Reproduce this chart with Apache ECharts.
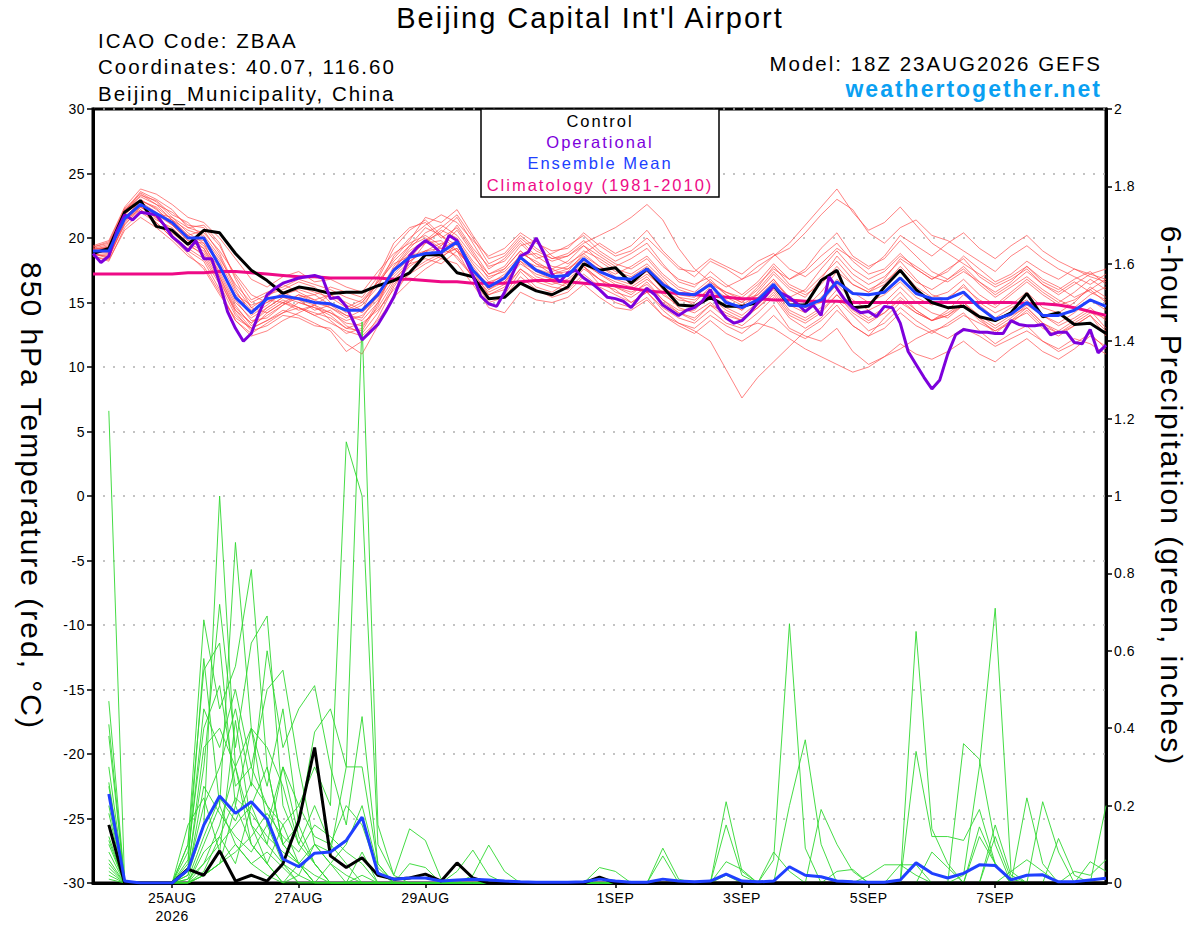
<!DOCTYPE html>
<html>
<head>
<meta charset="utf-8">
<script src="https://cdn.jsdelivr.net/npm/echarts@6.0.0/dist/echarts.min.js"></script>
<style>
html,body{margin:0;padding:0;background:#fff;}
#chart{width:1200px;height:927px;}
#chart svg text, #chart svg tspan{letter-spacing:2px;}
#chart svg [style*="14px"]{letter-spacing:0.5px;}
</style>
</head>
<body>
<div id="chart"></div>
<script>
// ---- x axis tick labels (hours after 18Z 23AUG2026) ----
const tickHours = [30, 78, 126, 198, 246, 294, 342];
const tickLabels = ['25AUG\n2026', '27AUG', '29AUG', '1SEP', '3SEP', '5SEP', '7SEP'];

// ---- 850 hPa temperature, 6-hourly from hour 0 ----
const controlTemp = [
 18.8,19.2,22.0,22.9,20.9,20.6,19.5,20.6,20.4,18.8,
 17.5,16.7,15.7,16.2,16.0,15.7,15.8,15.8,16.3,16.7,
 17.3,18.7,18.7,17.3,17.0,15.3,15.4,16.5,15.9,15.6,
 16.2,18.0,17.5,17.7,16.5,17.6,16.2,14.8,14.7,15.4,
 14.7,14.7,15.0,16.3,14.8,14.8,16.7,17.5,14.6,14.7,
 16.2,17.5,16.0,15.0,14.6,14.7,13.9,13.6,14.2,15.7,
 13.9,14.2,13.3,13.4,12.6];
const meanTemp = [
 19.0,19.0,21.5,22.6,21.9,21.2,20.0,20.0,17.8,15.4,
 14.2,15.3,15.5,15.3,15.0,14.9,14.4,14.4,15.6,17.5,
 18.5,18.8,18.9,19.7,17.5,16.2,16.9,18.5,17.5,17.0,
 17.1,18.4,17.4,16.9,16.8,17.6,16.4,15.7,15.6,16.4,
 15.0,14.6,15.2,16.4,14.8,14.7,15.2,16.6,15.7,15.6,
 15.8,16.9,15.7,15.3,15.3,15.8,14.6,13.7,14.1,15.0,
 14.0,14.0,14.4,15.2,14.7];
const climTemp = [
 17.2,17.2,17.2,17.2,17.2,17.2,17.3,17.3,17.4,17.4,
 17.3,17.2,17.1,17.0,17.0,16.9,16.9,16.9,16.9,16.8,
 16.8,16.7,16.6,16.6,16.5,16.5,16.5,16.6,16.7,16.7,
 16.6,16.5,16.4,16.3,16.1,15.9,15.8,15.7,15.6,15.5,
 15.4,15.3,15.3,15.2,15.2,15.1,15.1,15.1,15.0,15.0,
 15.0,15.0,15.0,15.0,15.0,15.0,15.0,15.0,15.0,14.9,
 14.9,14.8,14.6,14.3,14.0];
// operational run, 3-hourly from hour 0
const operTemp = [
 18.8,18.1,18.6,20.5,21.8,21.4,22.0,21.9,21.8,21.0,
 20.1,19.6,19.0,19.8,18.4,18.4,16.5,14.3,13.0,12.0,
 12.6,14.2,15.6,16.1,16.5,16.7,16.9,17.0,17.1,16.9,
 15.3,15.4,14.7,13.4,12.1,12.7,13.3,14.3,15.4,17.0,
 18.6,19.3,19.8,19.4,18.8,20.2,19.8,18.5,17.1,15.5,
 14.9,14.7,15.8,17.2,18.6,18.9,20.0,18.8,17.2,16.6,
 17.3,17.5,16.9,16.5,16.0,15.4,15.3,15.1,14.6,15.4,
 16.1,15.6,14.8,14.4,14.0,14.4,14.6,15.1,16.0,14.6,
 13.8,13.4,13.6,14.2,15.0,15.5,16.3,15.7,15.4,14.9,
 14.3,14.8,14.0,17.0,16.1,15.2,14.6,14.2,14.3,13.9,
 14.7,14.6,13.4,11.2,10.2,9.2,8.3,9.0,11.0,12.5,
 12.9,12.8,12.7,12.7,12.6,12.6,13.6,13.3,13.2,13.2,
 13.3,12.5,12.7,12.7,11.9,11.8,12.9,11.1,11.7];

// ensemble members, 6-hourly from hour 0
const ensTemp = [
 [19.2,19.5,22.0,23.5,22.8,21.6,20.4,19.6,17.2,14.8, 13.2,14.0,14.8,15.6,15.2,14.6,13.8,14.4,16.8,19.2, 20.6,21.4,20.2,19.0,17.6,16.0,16.8,18.8,18.2,17.4, 17.8,19.0,18.4,17.6,17.2,18.0,16.8,15.4,14.8,15.6, 15.2,14.4,15.8,17.2,16.0,15.4,16.8,18.6,17.2,16.4, 17.0,18.2,16.8,15.6,15.2,16.4,15.0,14.2,14.8,15.8, 14.6,14.2,15.0,16.2,15.4],
 [18.8,18.4,21.2,22.4,21.6,20.2,19.0,18.2,16.0,13.6, 12.4,12.8,13.6,14.2,14.8,13.6,12.6,13.0,15.0,17.6, 19.2,20.4,21.0,20.2,18.6,17.2,17.8,19.4,19.8,18.6, 18.0,18.8,19.6,18.8,19.4,20.6,19.0,17.8,17.0,18.2, 17.6,16.8,17.4,18.6,19.2,20.4,21.8,23.0,22.2,20.4, 19.6,20.8,21.4,20.2,19.8,19.0,18.2,17.4,18.6,19.4, 18.4,17.6,17.0,16.4,17.2],
 [19.0,18.9,21.8,22.9,22.4,21.4,20.2,20.6,18.8,16.2, 14.6,15.4,16.4,15.8,15.2,15.6,14.8,14.2,15.4,17.0, 18.2,19.0,18.4,19.6,17.2,15.8,16.4,18.2,17.0,16.6, 16.2,17.6,16.8,15.8,15.4,16.2,15.0,14.2,13.6,14.8, 13.8,13.2,14.2,15.4,13.8,13.0,13.8,15.2,14.0,12.8, 13.4,14.6,13.6,12.8,12.2,13.0,12.4,11.6,12.2,12.8, 12.0,11.4,12.2,11.8,11.0],
 [19.4,19.8,22.4,23.8,23.4,22.6,21.6,21.2,20.0,18.4, 16.8,16.2,17.0,17.4,16.6,16.8,16.2,15.8,17.4,18.8, 19.6,20.2,19.4,21.0,19.2,17.8,18.2,19.6,18.4,18.8, 19.4,20.2,19.0,18.2,18.8,19.6,18.0,16.6,16.2,17.4, 16.4,15.6,16.6,18.0,16.8,17.6,19.2,20.4,18.6,17.8, 18.4,19.8,18.6,17.4,16.8,17.8,16.6,15.8,16.6,17.8, 16.8,16.2,15.4,16.0,16.8],
 [18.6,18.2,20.8,22.0,21.2,20.0,18.8,17.6,15.6,13.8, 13.0,13.6,14.4,14.0,13.4,12.8,11.2,12.0,13.8,16.2, 18.0,19.6,19.8,18.4,17.0,15.2,15.6,17.4,16.2,15.8, 16.6,17.8,16.4,16.0,15.0,15.8,14.4,13.4,12.8,12.0, 9.8,7.6,9.2,10.4,11.6,12.8,13.6,14.8,13.2,12.4, 13.8,15.0,14.2,13.6,14.4,15.6,14.8,13.8,14.6,15.2, 14.0,13.2,13.8,14.6,13.6],
 [19.1,19.3,22.2,23.2,22.6,22.0,21.0,20.8,19.4,17.0, 15.2,15.8,16.2,16.8,16.4,16.0,15.4,15.0,16.6,18.4, 19.8,21.6,21.2,22.2,20.2,18.4,18.8,20.2,19.2,18.4, 18.6,19.4,18.6,17.8,18.4,19.2,17.8,16.8,16.4,17.0, 16.2,16.8,17.8,18.6,19.6,21.0,22.4,23.8,22.0,20.6, 21.2,22.4,21.0,19.6,18.8,18.0,17.2,16.4,17.0,17.8, 16.6,16.0,16.8,17.4,16.4],
 [19.0,19.1,21.6,22.6,21.8,21.0,19.8,19.2,17.4,15.0, 13.8,14.6,15.4,15.0,14.6,14.2,13.6,14.0,15.2,17.4, 18.8,19.6,20.6,20.0,18.2,17.0,17.4,18.6,18.8,18.2, 18.6,19.6,20.2,20.8,21.6,22.6,21.4,19.2,17.6,16.6, 15.8,15.2,15.6,16.8,15.4,14.6,15.0,16.4,15.2,14.4, 15.0,16.2,15.0,14.2,13.8,14.8,13.6,12.8,13.4,14.4, 13.2,12.6,13.4,14.2,13.8],
 [18.9,19.0,21.4,22.2,21.4,20.8,19.6,18.6,16.6,14.4, 13.4,14.4,15.2,14.6,14.0,14.4,13.2,12.6,14.2,16.4, 17.8,18.6,19.4,20.6,18.8,16.8,17.6,19.0,18.0,17.2, 17.4,18.8,17.8,17.0,16.6,17.4,16.0,15.2,15.0,16.2, 15.4,14.8,15.6,16.8,15.2,14.6,15.8,17.4,16.4,15.8, 16.4,17.8,16.6,16.0,16.8,17.6,16.4,15.4,16.2,17.0, 16.0,15.2,14.6,15.6,16.2],
 [19.3,19.6,22.2,23.0,22.2,21.2,20.0,19.8,18.2,15.8, 14.4,15.0,15.8,15.2,14.4,14.8,14.0,13.6,15.0,16.8, 18.0,18.4,18.0,19.0,16.8,15.0,15.4,17.0,16.0,15.4, 15.8,17.0,16.0,15.0,14.6,15.4,14.0,13.4,13.0,14.0, 13.2,12.6,13.6,14.8,13.0,12.4,12.0,13.0,11.2,10.2, 10.8,11.8,11.0,10.6,11.2,12.0,11.0,10.4,11.4,12.2, 11.2,10.6,11.4,12.4,11.6],
 [18.7,18.6,21.0,22.4,21.8,21.4,20.6,20.2,18.6,16.0, 14.0,14.8,15.8,16.2,15.8,15.4,14.6,15.2,16.6,18.0, 18.6,19.0,19.6,19.0,17.6,16.4,17.2,18.4,17.8,17.6, 17.0,18.0,17.2,16.4,16.0,16.8,15.8,14.6,14.2,15.0, 14.0,13.6,14.8,16.0,14.4,13.8,14.6,16.0,14.6,13.8, 14.6,15.8,14.4,13.6,14.0,15.0,13.8,12.6,13.6,14.6, 13.4,12.8,13.6,14.4,13.0],
 [19.1,19.4,21.9,23.3,22.9,21.8,21.2,20.0,18.4,16.4, 15.0,15.6,16.0,16.6,16.2,15.0,14.2,14.8,16.2,18.6, 20.0,21.0,21.8,21.2,19.8,18.6,19.2,20.4,19.6,19.0, 19.2,20.4,19.4,18.6,19.0,20.0,18.8,17.6,17.4,18.4, 17.8,17.2,18.2,18.8,17.6,17.0,18.0,19.2,18.4,17.6, 18.6,20.2,19.4,18.6,19.6,20.4,19.2,18.4,19.4,20.2, 19.0,18.2,17.6,17.0,16.6],
 [18.8,18.5,21.3,22.6,21.5,20.4,19.4,18.8,16.8,14.2, 12.8,13.2,14.0,13.8,13.2,13.0,11.8,11.0,13.2,15.6, 17.4,18.2,18.8,19.2,17.4,16.0,16.6,18.0,17.2,16.8, 16.4,17.8,16.8,16.2,15.6,16.6,15.2,14.4,14.4,15.6, 14.6,14.0,15.0,16.4,14.8,14.2,15.4,16.8,15.8,15.0, 15.6,16.6,15.4,14.8,15.4,16.2,15.2,14.6,15.6,16.6, 15.6,14.8,15.2,16.0,15.0],
 [19.2,19.2,21.6,22.8,22.0,21.0,20.2,19.4,17.6,15.6, 14.8,15.2,15.0,14.4,14.8,15.6,15.0,14.4,15.8,17.2, 18.4,19.8,20.4,21.6,19.6,17.6,18.4,19.8,18.6,17.8, 17.6,18.6,17.8,17.2,17.8,18.6,17.2,16.2,15.8,16.8, 15.6,15.0,16.0,17.4,16.2,15.6,16.4,17.8,16.4,15.8, 16.8,18.4,17.6,16.8,17.4,18.6,17.6,16.6,17.2,18.2, 17.4,16.8,17.6,17.2,16.8],
 [18.9,18.8,21.4,22.4,21.6,20.6,19.6,19.0,17.0,14.6, 13.4,14.6,15.4,15.2,14.8,14.2,13.4,13.2,14.6,16.6, 18.2,19.0,19.2,18.6,17.0,15.6,16.2,17.6,16.6,16.2, 16.0,17.2,16.2,15.6,15.0,15.8,14.6,13.8,13.4,14.4, 13.4,13.0,13.4,13.0,12.2,11.4,10.8,10.2,9.6,10.0, 10.8,11.4,12.2,12.8,13.2,14.0,13.4,12.8,13.6,14.2, 13.0,12.4,13.2,14.0,12.8],
 [19.0,19.3,22.1,23.6,23.0,22.2,20.8,20.4,19.0,17.2, 15.6,15.0,15.6,16.0,15.6,16.2,15.8,15.4,17.0,19.6, 20.8,21.2,20.0,20.8,19.0,17.2,17.6,19.0,18.0,17.6, 18.2,19.4,18.2,17.4,17.0,17.8,16.6,15.6,15.4,16.4, 15.8,15.4,16.4,17.6,16.8,17.4,18.6,19.6,18.2,17.2, 17.6,18.8,17.6,16.8,17.6,18.4,17.0,16.2,16.8,17.6, 16.4,15.6,16.4,17.2,17.6],
 [18.6,18.3,20.6,21.6,20.8,19.8,18.6,17.8,15.8,13.6, 12.6,13.4,14.2,14.6,14.0,13.4,12.8,12.4,13.6,15.4, 16.6,17.6,18.4,18.0,16.4,14.6,14.2,15.8,15.2,15.0, 15.4,16.4,15.4,14.6,14.4,15.2,14.0,13.2,12.6,13.6, 12.6,12.0,12.8,14.0,12.8,12.2,13.0,14.4,13.2,12.4, 13.0,14.2,13.2,12.6,13.4,14.2,12.8,11.8,12.6,13.2, 12.0,11.2,11.8,12.6,11.4],
 [19.1,18.9,21.7,22.5,21.9,21.6,20.8,21.0,19.6,16.8, 14.6,14.2,15.0,15.6,15.0,14.6,14.0,13.8,15.6,17.8, 19.4,20.0,19.2,19.8,18.0,16.6,17.0,18.6,17.6,17.2, 17.6,18.4,17.6,16.8,16.4,17.2,16.2,15.4,15.2,16.0, 15.0,14.4,15.4,16.6,15.4,16.0,17.6,19.0,17.6,16.8, 17.4,18.6,17.8,17.0,16.6,17.4,16.6,15.6,16.4,17.4, 16.4,15.8,16.6,15.8,15.2],
 [18.8,19.0,21.5,22.9,22.3,21.0,19.8,19.6,18.0,15.2, 13.6,13.8,14.8,15.4,15.6,14.8,14.4,15.0,16.4,18.2, 19.4,20.8,20.2,19.4,17.8,16.2,16.6,18.2,17.4,16.8, 17.2,18.2,17.2,16.6,16.2,17.0,15.6,14.8,14.6,15.4, 14.4,13.8,14.6,15.8,14.2,13.6,14.4,15.6,14.4,13.6, 14.2,15.2,14.2,13.6,14.0,14.8,13.8,13.0,13.8,14.8, 14.0,13.4,14.2,15.2,14.4],
 [19.3,19.7,22.3,23.4,22.6,21.4,20.2,19.2,17.0,14.4, 13.0,13.6,14.2,15.0,14.6,14.0,13.0,12.8,14.8,17.6, 19.0,19.8,20.8,21.8,20.0,18.0,18.6,20.0,19.0,18.4, 18.8,19.8,18.8,18.0,17.6,18.4,17.0,16.0,15.6,16.6, 15.6,15.0,16.2,17.8,16.4,15.8,17.0,18.2,16.8,16.0, 16.6,17.6,16.2,15.4,15.8,16.8,15.6,14.8,15.8,16.8, 15.8,15.0,15.8,16.8,16.0],
 [18.7,18.7,21.1,22.2,21.2,20.0,19.2,18.4,16.4,14.0, 13.0,14.2,15.0,14.6,14.2,13.8,13.0,13.4,14.4,16.0, 17.2,18.0,18.6,19.2,17.4,15.6,16.0,17.6,16.8,16.4, 16.8,17.8,16.8,16.2,15.8,16.4,15.2,14.2,13.8,14.8, 14.2,13.6,14.6,15.6,14.0,13.4,14.2,15.6,14.2,13.4, 14.2,15.4,14.4,13.6,14.2,15.0,14.0,13.2,14.0,14.6, 13.4,12.6,13.2,14.0,12.4]
];

// ---- 6-hour precipitation (inches), 6-hourly from hour 6 ----
const controlPrecip = [
 0.15,0,0,0,0,0.036,0.02,0.083,0.005,0.02,
 0.005,0.05,0.16,0.35,0.07,0.04,0.065,0.02,0.01,0.013,
 0.023,0.005,0.052,0.013,0,0,0,0,0,0,
 0,0.015,0,0,0,0,0,0,0,0,
 0,0,0,0,0,0,0,0,0,0,
 0,0,0,0,0,0,0,0,0,0,
 0,0,0,0];
const meanPrecip = [
 0.23,0.005,0,0,0,0.034,0.15,0.225,0.18,0.21,
 0.165,0.062,0.042,0.077,0.08,0.11,0.17,0.025,0.01,0.013,
 0.013,0.005,0.008,0.01,0.008,0.005,0.003,0.002,0.002,0.002,
 0.003,0.01,0.005,0.002,0.002,0.01,0.005,0.003,0.005,0.023,
 0.005,0.003,0.005,0.042,0.02,0.016,0.005,0.003,0.002,0.002,
 0.008,0.052,0.025,0.013,0.025,0.047,0.045,0.008,0.02,0.021,
 0.003,0.003,0.008,0.012];
const ensPrecip = [
 [1.22,0,0,0,0,0.02,0.15,1.0,0.3,0.1, 0.05,0,0.02,0.1,0.05,0.02,0,0,0,0, 0,0,0,0,0,0,0,0,0,0, 0,0,0,0,0,0,0,0,0,0, 0,0,0,0,0,0,0,0,0,0, 0,0,0,0,0,0,0,0,0,0, 0,0,0,0],
 [0.47,0,0,0,0,0.05,0.58,0.2,0.88,0.4, 0.15,0.05,0.02,0,0,0,0,0,0,0, 0,0,0,0,0,0,0,0,0,0, 0,0,0,0,0,0,0,0,0,0, 0,0,0.06,0.67,0.09,0,0,0,0,0, 0,0,0,0,0,0,0,0,0,0, 0,0,0,0],
 [0.41,0,0,0,0,0.1,0.68,0.45,0.56,0.81, 0.3,0.1,0.05,0,0,0,0,0,0,0, 0,0,0,0,0,0,0,0,0,0, 0,0,0,0,0,0,0,0,0,0, 0,0,0,0,0,0,0,0,0,0, 0,0.65,0.14,0.05,0,0,0,0,0,0, 0,0,0,0],
 [0.38,0,0,0,0,0.04,0.3,0.72,0.35,0.62, 0.69,0.2,0.1,0.05,0,0,0,0,0,0, 0,0,0,0,0,0,0,0,0,0, 0,0,0,0,0,0,0,0,0,0, 0,0,0,0,0,0,0,0,0,0, 0,0,0,0,0.02,0.3,0.71,0.03,0,0, 0,0,0,0],
 [0.26,0,0,0,0,0.08,0.4,0.51,0.25,0.3, 0.5,0.55,0.3,0.1,0.05,0,0,0,0,0, 0,0,0,0,0,0,0,0,0,0, 0,0,0,0,0,0,0,0,0,0.21, 0.03,0,0,0,0,0,0,0,0,0, 0,0,0,0,0,0,0,0,0,0, 0,0,0,0],
 [0.11,0,0,0,0,0.03,0.2,0.3,0.45,0.25, 0.6,0.35,0.45,0.51,0.3,0.15,0.43,0.05,0,0, 0,0,0,0,0,0,0,0,0,0, 0,0,0,0,0,0,0,0,0,0, 0,0,0,0.2,0.37,0.1,0,0,0,0, 0,0,0,0,0,0,0,0,0,0, 0,0,0,0],
 [0.2,0,0,0,0,0,0.05,0.1,0.15,0.2, 0.3,0.1,0.15,0.39,0.45,0.3,0.3,0.05,0,0, 0,0,0,0,0,0,0,0,0,0, 0,0,0,0,0,0,0,0,0,0, 0,0,0,0,0,0.19,0.1,0.03,0,0, 0,0,0,0,0,0.12,0.05,0,0,0, 0,0,0,0],
 [0.15,0,0,0,0,0,0.02,0.05,0.2,0.1, 0.05,0.15,0.2,0.3,0.2,1.14,1.0,0.1,0.02,0.14, 0.11,0.01,0,0,0,0,0,0,0,0, 0,0,0,0,0,0,0,0,0,0, 0,0,0,0,0,0,0,0,0,0, 0,0,0,0,0,0,0,0,0,0, 0,0,0,0],
 [0.08,0,0,0,0,0,0.1,0.2,0.1,0.05, 0.02,0,0.05,0.1,0.08,0.3,1.45,0.15,0.02,0, 0,0,0.03,0.085,0.02,0,0,0,0,0, 0,0,0,0,0,0.09,0.01,0,0,0, 0,0,0,0,0,0,0,0,0,0, 0,0,0,0,0,0,0,0,0,0, 0,0,0,0],
 [0.05,0,0,0,0,0.06,0.45,0.35,0.5,0.3, 0.2,0.1,0.05,0.02,0,0,0,0,0,0, 0,0,0,0.02,0.098,0.03,0,0,0,0, 0,0.04,0.03,0,0,0,0,0,0,0.15, 0.02,0,0,0,0,0,0,0,0,0, 0,0,0,0,0,0,0,0,0,0, 0,0,0,0],
 [0.03,0,0,0,0,0.1,0.55,0.62,0.2,0.4, 0.25,0.45,0.15,0.05,0,0,0,0,0,0, 0,0,0,0,0,0,0,0,0,0, 0,0,0,0,0,0,0,0,0,0, 0,0,0,0,0,0,0,0,0,0, 0,0.34,0.12,0.12,0.11,0.19,0.05,0,0,0, 0,0,0,0],
 [0.02,0,0,0,0,0.01,0.05,0.15,0.3,0.4, 0.35,0.25,0.1,0.2,0.1,0.05,0,0,0,0, 0,0,0,0,0,0,0,0,0,0, 0,0,0,0,0,0,0,0,0,0, 0,0,0,0,0,0,0,0,0,0, 0,0,0,0,0.36,0.32,0.1,0,0.22,0.05, 0,0,0,0],
 [0.3,0,0,0,0,0.02,0.25,0.18,0.12,0.08, 0.15,0.3,0.2,0.12,0.1,0.2,0.15,0.03,0,0, 0,0,0,0,0,0,0,0,0,0, 0,0,0,0,0,0,0,0,0,0, 0,0,0,0,0,0,0,0,0,0, 0,0,0,0,0,0,0,0,0,0.21, 0.08,0,0,0.2],
 [0.06,0,0,0,0,0.03,0.35,0.4,0.3,0.15, 0.1,0.05,0,0,0,0,0,0,0,0, 0,0,0,0,0,0,0,0,0,0, 0,0,0,0,0,0.07,0,0,0,0.055, 0.035,0,0,0,0,0,0,0,0.02,0.047, 0.047,0.02,0,0,0,0,0,0,0,0, 0,0,0.055,0.03],
 [0.18,0,0,0,0,0,0.08,0.12,0.22,0.18, 0.12,0.08,0.05,0,0,0,0.02,0,0,0.05, 0.04,0,0,0,0,0,0,0,0,0, 0,0,0,0,0,0,0,0,0,0, 0,0,0,0,0,0,0,0,0,0, 0,0,0,0,0,0,0.15,0.02,0,0, 0.115,0.02,0,0],
 [0.1,0,0,0,0,0,0.02,0.05,0.08,0.12, 0.18,0.12,0.08,0.15,0.12,0.08,0.05,0,0,0, 0,0,0,0,0,0,0,0,0,0, 0,0,0,0,0,0,0,0,0,0, 0,0,0.08,0.03,0,0,0,0,0,0, 0,0,0,0,0,0,0.12,0.01,0,0, 0,0,0,0],
 [0.12,0,0,0,0,0.01,0.12,0.22,0.16,0.26, 0.2,0.15,0.05,0,0,0,0.08,0,0,0, 0,0,0,0,0,0,0,0,0,0, 0,0,0,0,0,0,0,0,0,0, 0,0,0,0,0,0,0,0,0,0, 0,0,0,0,0,0,0,0.03,0.06,0.03, 0,0,0,0],
 [0.25,0,0,0,0,0,0.02,0.05,0.1,0.05, 0.08,0.04,0,0,0,0,0,0,0,0, 0,0,0,0,0,0,0,0,0,0, 0,0,0,0,0,0,0,0,0,0, 0,0,0,0,0,0,0,0,0,0, 0,0,0.08,0.04,0,0,0,0,0,0, 0,0.03,0.02,0.06],
 [0.04,0,0,0,0,0.15,0.22,0.08,0.42,0.15, 0.05,0,0,0,0.05,0.1,0.2,0.04,0,0, 0,0,0,0,0,0,0,0,0,0, 0,0,0,0,0,0,0,0,0,0, 0,0,0,0,0,0,0,0,0,0, 0,0,0,0,0,0.145,0.05,0,0,0, 0,0,0,0],
 [0.01,0,0,0,0,0,0.03,0.12,0.05,0.2, 0.1,0.3,0.12,0.05,0,0,0,0,0,0, 0,0,0,0,0,0,0,0,0,0, 0,0,0,0,0,0,0,0,0,0.02, 0,0,0,0,0,0,0.03,0.035,0,0, 0.047,0.047,0,0,0,0,0,0,0,0, 0,0,0,0]
];

// ---- styling ----
const FONT = '"Liberation Sans", Arial, Helvetica, sans-serif';
const C_RED = 'rgba(255,70,70,0.75)';
const C_GREEN = '#30d830';
const C_PURPLE = '#7d00dc';
const C_BLUE = '#2040ff';
const C_CLIM = '#ee0a86';

const tempPairs = (arr, step) => arr.map((v, i) => [i * step, v]);
const precipPairs = (arr) => arr.map((v, i) => [(i + 1) * 6, v]);

const lineBase = { type: 'line', showSymbol: false, symbol: 'none', silent: true, animation: false };

const series = [];
ensTemp.forEach((m, k) => series.push(Object.assign({}, lineBase, {
  name: 'ensT' + k, xAxisIndex: 0, yAxisIndex: 0, data: tempPairs(m, 6),
  lineStyle: { color: C_RED, width: 0.9 }, z: 2
})));
ensPrecip.forEach((m, k) => series.push(Object.assign({}, lineBase, {
  name: 'ensP' + k, xAxisIndex: 0, yAxisIndex: 1, data: precipPairs(m),
  lineStyle: { color: C_GREEN, width: 0.9 }, z: 3
})));
series.push(Object.assign({}, lineBase, { name: 'Control precip', yAxisIndex: 1, data: precipPairs(controlPrecip), lineStyle: { color: '#000', width: 3 }, z: 4 }));
series.push(Object.assign({}, lineBase, { name: 'Mean precip', yAxisIndex: 1, data: precipPairs(meanPrecip), lineStyle: { color: C_BLUE, width: 3 }, z: 4 }));
series.push(Object.assign({}, lineBase, { name: 'Climatology', yAxisIndex: 0, data: tempPairs(climTemp, 6), lineStyle: { color: C_CLIM, width: 3 }, z: 5 }));
series.push(Object.assign({}, lineBase, { name: 'Control', yAxisIndex: 0, data: tempPairs(controlTemp, 6), lineStyle: { color: '#000', width: 3 }, z: 6 }));
series.push(Object.assign({}, lineBase, { name: 'Operational', yAxisIndex: 0, data: tempPairs(operTemp, 3), lineStyle: { color: C_PURPLE, width: 3 }, z: 7 }));
series.push(Object.assign({}, lineBase, { name: 'Ensemble Mean', yAxisIndex: 0, data: tempPairs(meanTemp, 6), lineStyle: { color: C_BLUE, width: 3 }, z: 8 }));

const txt = (text, x, y, size, color, align, extra) => Object.assign({
  type: 'text', x: x, y: y, z: 200, silent: true,
  style: { text: text, fontSize: size, fontFamily: FONT, fill: color, textAlign: align, textVerticalAlign: 'middle' }
}, extra || {});

const option = {
  animation: false,
  backgroundColor: '#fff',
  grid: { left: 93, top: 109, width: 1013, height: 774, show: true, borderColor: '#000', borderWidth: 3, backgroundColor: 'transparent' },
  xAxis: [{
    type: 'value', min: 0, max: 384,
    axisLine: { show: true, onZero: false, lineStyle: { color: '#000', width: 3 } },
    axisTick: { show: true, customValues: tickHours, length: 5, lineStyle: { color: '#000', width: 1.5 } },
    axisLabel: { customValues: tickHours, formatter: v => tickLabels[tickHours.indexOf(v)] || '', fontSize: 14, fontFamily: FONT, color: '#000', margin: 6, lineHeight: 18 },
    splitLine: { show: false }
  }],
  yAxis: [{
    type: 'value', min: -30, max: 30, interval: 5, position: 'left',
    axisLine: { show: true, onZero: false, lineStyle: { color: '#000', width: 3 } },
    axisTick: { show: true, length: 6, lineStyle: { color: '#000', width: 1.5 } },
    axisLabel: { fontSize: 14, fontFamily: FONT, color: '#000', margin: 8 },
    splitLine: { show: true, lineStyle: { color: '#b0b0b0', width: 1.5, type: [2, 8] } }
  }, {
    type: 'value', min: 0, max: 2, interval: 0.2, position: 'right',
    axisLine: { show: true, onZero: false, lineStyle: { color: '#000', width: 3 } },
    axisTick: { show: true, length: 6, lineStyle: { color: '#000', width: 1.5 } },
    axisLabel: { fontSize: 14, fontFamily: FONT, color: '#000', margin: 8, formatter: v => String(Math.round(v * 10) / 10) },
    splitLine: { show: false }
  }],
  graphic: [
    txt("Beijing Capital Int'l Airport", 590, 18, 29, '#000', 'center'),
    txt('ICAO Code: ZBAA', 98, 40, 20.5, '#000', 'left'),
    txt('Coordinates: 40.07, 116.60', 98, 66, 20.5, '#000', 'left'),
    txt('Beijing_Municipality, China', 98, 93, 20.5, '#000', 'left'),
    txt('Model: 18Z 23AUG2026 GEFS', 1102, 63, 20.5, '#000', 'right'),
    txt('weathertogether.net', 1102, 89, 23, '#0aa0f2', 'right'),
    txt('850 hPa Temperature (red, °C)', 31, 496, 30, '#000', 'center', { rotation: -Math.PI / 2 }),
    txt('6-hour Precipitation (green, inches)', 1171, 496, 30, '#000', 'center', { rotation: -Math.PI / 2 }),
    { type: 'rect', z: 190, silent: true, shape: { x: 481, y: 109, width: 238, height: 88 }, style: { fill: '#fff', stroke: '#000', lineWidth: 1.5 } },
    txt('Control', 600, 121, 16.5, '#000', 'center'),
    txt('Operational', 600, 142, 16.5, C_PURPLE, 'center'),
    txt('Ensemble Mean', 600, 163, 16.5, C_BLUE, 'center'),
    txt('Climatology (1981-2010)', 600, 185, 16.5, C_CLIM, 'center')
  ],
  series: series
};
option.graphic[5].style.fontWeight = 'bold';

const chart = echarts.init(document.getElementById('chart'), null, { renderer: 'svg', width: 1200, height: 927 });
chart.setOption(option);
</script>
</body>
</html>
